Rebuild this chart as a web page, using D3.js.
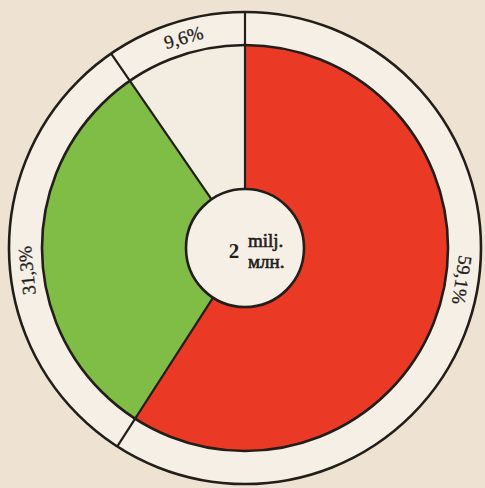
<!DOCTYPE html>
<html>
<head>
<meta charset="utf-8">
<script src="https://cdn.jsdelivr.net/npm/d3@7"></script>
<style>
  html, body { margin: 0; padding: 0; background: #eee3d2; }
  svg { display: block; }
</style>
</head>
<body>
<svg width="485" height="488"></svg>
<script>
// shares of the total, clockwise from 12 o'clock
const shares = [59.1, 31.3, 9.6]
const shareLabels = ['59,1%', '31,3%', '9,6%']
const centerValue = '2'
const centerUnits = ['milj.', 'млн.']

const sliceColors = ['#ea3a25', '#80bd46', '#f3ece1']
const labelNudge = [-8, -5, 1] // degrees, labels are not set exactly mid-slice
const ink = '#231e1a'

const svg = d3.select('svg')
const cx = 245, cy = 248
const rHole = 59, rData = 203, rOuter = 236

const g = svg.append('g').attr('transform', `translate(${cx},${cy})`)

const pie = d3.pie().sort(null).value(d => d)
const arcs = pie(shares)

const arc = d3.arc().innerRadius(rHole).outerRadius(rData)

// outer label ring
g.append('circle')
  .attr('r', rOuter)
  .attr('fill', '#f5efe6')
  .attr('stroke', ink)
  .attr('stroke-width', 2.6)

g.selectAll('path.slice')
  .data(arcs)
  .enter().append('path')
    .attr('class', 'slice')
    .attr('d', arc)
    .attr('fill', (d, i) => sliceColors[i])

g.append('circle')
  .attr('r', rData)
  .attr('fill', 'none')
  .attr('stroke', ink)
  .attr('stroke-width', 2.6)

// dividers between slices, running through the ring
const rad = d3.scaleLinear().domain([0, 1]).range([rHole, rOuter])
g.selectAll('line.divider')
  .data(arcs)
  .enter().append('line')
    .attr('class', 'divider')
    .attr('x1', d => Math.sin(d.startAngle) * rad(0))
    .attr('y1', d => -Math.cos(d.startAngle) * rad(0))
    .attr('x2', d => Math.sin(d.startAngle) * rad(1))
    .attr('y2', d => -Math.cos(d.startAngle) * rad(1))
    .attr('stroke', ink)
    .attr('stroke-width', 2.2)

// percentage labels set along the ring
const rLabel = (rData + rOuter) / 2
g.selectAll('text.share')
  .data(arcs)
  .enter().append('text')
    .attr('class', 'share')
    .attr('transform', (d, i) => {
      const a = (d.startAngle + d.endAngle) / 2 * 180 / Math.PI + labelNudge[i]
      return `rotate(${a}) translate(0,${-rLabel})`
    })
    .attr('text-anchor', 'middle')
    .attr('dy', '0.35em')
    .attr('font-family', '"Liberation Serif", "DejaVu Serif", serif')
    .attr('font-size', 19)
    .attr('fill', ink)
    .attr('stroke', ink)
    .attr('stroke-width', 0.3)
    .text((d, i) => shareLabels[i])

// centre disc
g.append('circle')
  .attr('r', rHole)
  .attr('fill', '#f5efe6')
  .attr('stroke', ink)
  .attr('stroke-width', 2.6)

g.append('text')
  .attr('x', -11)
  .attr('y', 10)
  .attr('text-anchor', 'middle')
  .attr('font-family', '"Liberation Serif", "DejaVu Serif", serif')
  .attr('font-weight', 'bold')
  .attr('font-size', 21)
  .attr('fill', ink)
  .text(centerValue)

g.selectAll('text.unit')
  .data(centerUnits)
  .enter().append('text')
    .attr('class', 'unit')
    .attr('x', 3)
    .attr('y', (d, i) => i === 0 ? -1 : 20)
    .attr('font-family', '"Liberation Serif", "DejaVu Serif", serif')
    .attr('font-size', 19)
    .attr('fill', ink)
    .attr('stroke', ink)
    .attr('stroke-width', 0.6)
    .text(d => d)
</script>
</body>
</html>
